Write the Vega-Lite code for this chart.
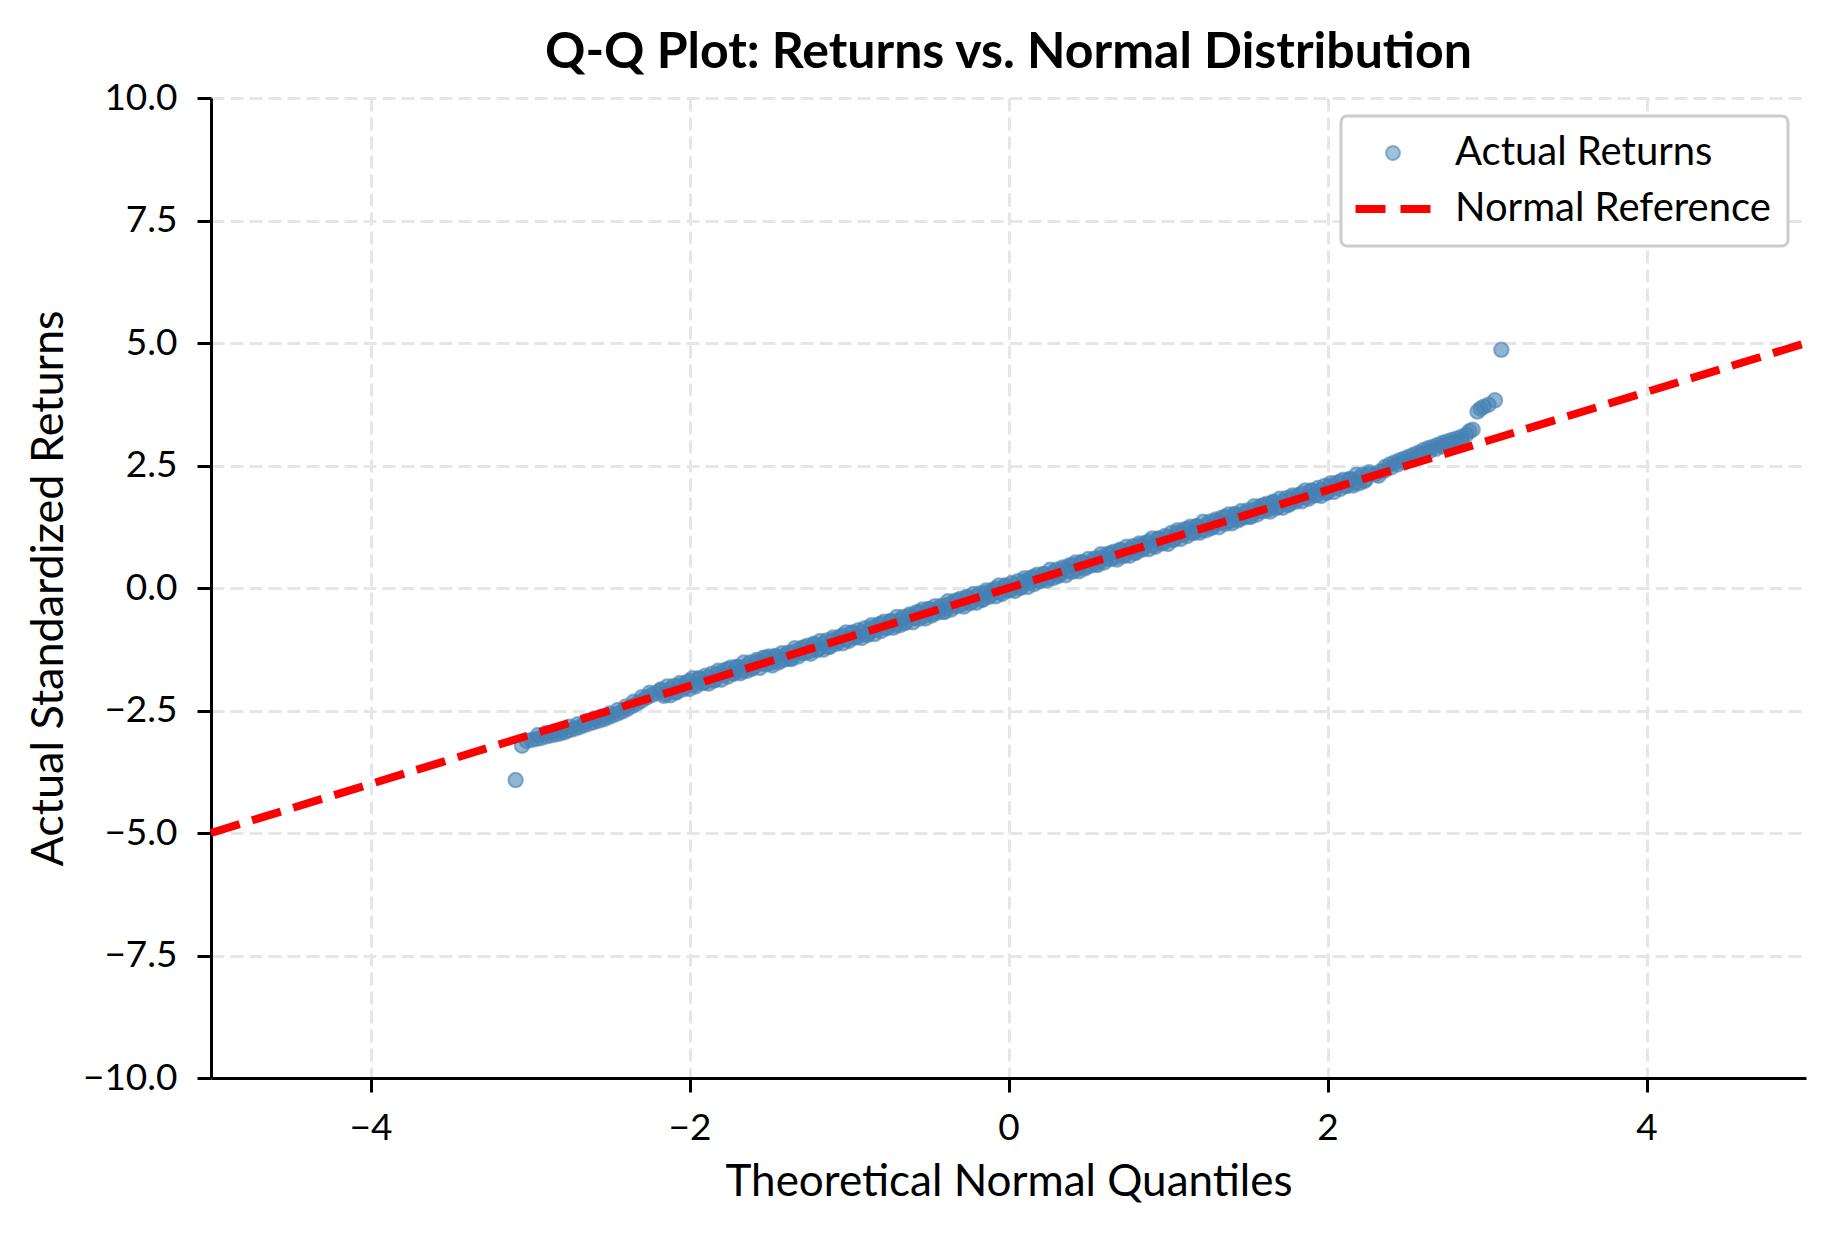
{
  "$schema": "https://vega.github.io/schema/vega-lite/v6.json",
  "width": 1595,
  "height": 980,
  "autosize": {"type": "none"},
  "padding": {"left": 211, "top": 98, "right": 28, "bottom": 156},
  "background": "white",
  "title": {
    "text": "Q-Q Plot: Returns vs. Normal Distribution",
    "font": "Lato", "fontSize": 50, "fontWeight": "bold", "color": "black",
    "anchor": "middle", "offset": 1
  },
  "config": {
    "view": {"stroke": null},
    "axis": {
      "domainColor": "black", "domainWidth": 3,
      "tickColor": "black", "tickWidth": 3, "tickSize": 14,
      "labelFont": "Lato", "labelFontSize": 37, "labelColor": "black", "labelPadding": 18,
      "labelFlush": false, "labelOverlap": false,
      "titleFont": "Lato", "titleFontSize": 44, "titleFontWeight": "normal", "titleColor": "black",
      "gridColor": "#e6e6e6", "gridWidth": 3, "gridDash": [13, 6]
    }
  },
  "datasets": {
    "qq": [
      {"q": -3.09, "r": -3.92}, {"q": -3.05, "r": -3.22}, {"q": -3.02, "r": -3.12}, {"q": -2.99, "r": -3.1},
      {"q": -2.96, "r": -3.08}, {"q": -2.93, "r": -3.06}, {"q": -2.9, "r": -3.03}, {"q": -2.87, "r": -3.01},
      {"q": -2.84, "r": -2.99}, {"q": -2.81, "r": -2.97}, {"q": -2.78, "r": -2.94}, {"q": -2.75, "r": -2.9},
      {"q": -2.72, "r": -2.87}, {"q": -2.69, "r": -2.84}, {"q": -2.66, "r": -2.8}, {"q": -2.63, "r": -2.77},
      {"q": -2.6, "r": -2.74}, {"q": -2.57, "r": -2.71}, {"q": -2.54, "r": -2.68}, {"q": -2.51, "r": -2.64},
      {"q": -2.48, "r": -2.6}, {"q": -2.45, "r": -2.56}, {"q": -2.42, "r": -2.52}, {"q": -2.39, "r": -2.47},
      {"q": -2.36, "r": -2.41}, {"q": -2.33, "r": -2.36}, {"q": -2.3, "r": -2.3}, {"q": -2.27, "r": -2.24},
      {"q": -2.24, "r": -2.19}, {"q": -2.21, "r": -2.15},
      {"q": -2.95, "r": -3.0}, {"q": -2.9, "r": -2.96}, {"q": -2.85, "r": -2.93}, {"q": -2.8, "r": -2.89},
      {"q": -2.75, "r": -2.83}, {"q": -2.7, "r": -2.78}, {"q": -2.65, "r": -2.72}, {"q": -2.6, "r": -2.67},
      {"q": -2.55, "r": -2.62}, {"q": -2.5, "r": -2.56}, {"q": -2.45, "r": -2.49}, {"q": -2.4, "r": -2.42},
      {"q": -2.35, "r": -2.32}, {"q": -2.3, "r": -2.23}, {"q": -2.25, "r": -2.14},
      {"q": -2.18, "r": -2.09}, {"q": -2.15, "r": -2.17}, {"q": -2.12, "r": -2.07}, {"q": -2.09, "r": -2.13},
      {"q": -2.06, "r": -1.99}, {"q": -2.03, "r": -2.02}, {"q": -2.0, "r": -1.9}, {"q": -1.97, "r": -1.98},
      {"q": -1.94, "r": -1.85}, {"q": -1.91, "r": -1.93}, {"q": -1.88, "r": -1.83}, {"q": -1.85, "r": -1.89},
      {"q": -1.82, "r": -1.75}, {"q": -1.79, "r": -1.78}, {"q": -1.76, "r": -1.66}, {"q": -1.73, "r": -1.74},
      {"q": -1.7, "r": -1.61}, {"q": -1.67, "r": -1.69}, {"q": -1.64, "r": -1.59}, {"q": -1.61, "r": -1.65},
      {"q": -1.58, "r": -1.51}, {"q": -1.55, "r": -1.54}, {"q": -1.52, "r": -1.42}, {"q": -1.49, "r": -1.53},
      {"q": -1.46, "r": -1.4}, {"q": -1.43, "r": -1.48}, {"q": -1.4, "r": -1.38}, {"q": -1.37, "r": -1.44},
      {"q": -1.34, "r": -1.3}, {"q": -1.31, "r": -1.33}, {"q": -1.28, "r": -1.21}, {"q": -1.25, "r": -1.29},
      {"q": -1.22, "r": -1.16}, {"q": -1.19, "r": -1.24}, {"q": -1.16, "r": -1.14}, {"q": -1.13, "r": -1.2},
      {"q": -1.1, "r": -1.06}, {"q": -1.07, "r": -1.09}, {"q": -1.04, "r": -0.97}, {"q": -1.01, "r": -1.05},
      {"q": -0.98, "r": -0.92}, {"q": -0.95, "r": -1.0}, {"q": -0.92, "r": -0.9}, {"q": -0.89, "r": -0.96},
      {"q": -0.86, "r": -0.82}, {"q": -0.83, "r": -0.85}, {"q": -0.8, "r": -0.73}, {"q": -0.77, "r": -0.81},
      {"q": -0.74, "r": -0.68}, {"q": -0.71, "r": -0.76}, {"q": -0.68, "r": -0.66}, {"q": -0.65, "r": -0.72},
      {"q": -0.62, "r": -0.58}, {"q": -0.59, "r": -0.61}, {"q": -0.56, "r": -0.49}, {"q": -0.53, "r": -0.57},
      {"q": -0.5, "r": -0.44}, {"q": -0.47, "r": -0.52}, {"q": -0.44, "r": -0.42}, {"q": -0.41, "r": -0.48},
      {"q": -0.38, "r": -0.34}, {"q": -0.35, "r": -0.37}, {"q": -0.32, "r": -0.25}, {"q": -0.29, "r": -0.33},
      {"q": -0.26, "r": -0.2}, {"q": -0.23, "r": -0.28}, {"q": -0.2, "r": -0.18}, {"q": -0.17, "r": -0.24},
      {"q": -0.14, "r": -0.1}, {"q": -0.11, "r": -0.13}, {"q": -0.08, "r": -0.01}, {"q": -0.05, "r": -0.09},
      {"q": -0.02, "r": 0.04}, {"q": 0.01, "r": -0.04}, {"q": 0.04, "r": 0.06}, {"q": 0.07, "r": 0.0},
      {"q": 0.1, "r": 0.14}, {"q": 0.13, "r": 0.11}, {"q": 0.16, "r": 0.23}, {"q": 0.19, "r": 0.15},
      {"q": 0.22, "r": 0.28}, {"q": 0.25, "r": 0.2}, {"q": 0.28, "r": 0.3}, {"q": 0.31, "r": 0.24},
      {"q": 0.34, "r": 0.38}, {"q": 0.37, "r": 0.35}, {"q": 0.4, "r": 0.47}, {"q": 0.43, "r": 0.39},
      {"q": 0.46, "r": 0.52}, {"q": 0.49, "r": 0.44}, {"q": 0.52, "r": 0.54}, {"q": 0.55, "r": 0.48},
      {"q": 0.58, "r": 0.62}, {"q": 0.61, "r": 0.59}, {"q": 0.64, "r": 0.71}, {"q": 0.67, "r": 0.63},
      {"q": 0.7, "r": 0.76}, {"q": 0.73, "r": 0.68}, {"q": 0.76, "r": 0.78}, {"q": 0.79, "r": 0.72},
      {"q": 0.82, "r": 0.86}, {"q": 0.85, "r": 0.83}, {"q": 0.88, "r": 0.95}, {"q": 0.91, "r": 0.87},
      {"q": 0.94, "r": 1.0}, {"q": 0.97, "r": 0.92}, {"q": 1.0, "r": 1.04}, {"q": 1.03, "r": 0.98},
      {"q": 1.06, "r": 1.12}, {"q": 1.09, "r": 1.09}, {"q": 1.12, "r": 1.21}, {"q": 1.15, "r": 1.13},
      {"q": 1.18, "r": 1.26}, {"q": 1.21, "r": 1.18}, {"q": 1.24, "r": 1.28}, {"q": 1.27, "r": 1.22},
      {"q": 1.3, "r": 1.36}, {"q": 1.33, "r": 1.33}, {"q": 1.36, "r": 1.45}, {"q": 1.39, "r": 1.37},
      {"q": 1.42, "r": 1.5}, {"q": 1.45, "r": 1.42}, {"q": 1.48, "r": 1.52}, {"q": 1.51, "r": 1.46},
      {"q": 1.54, "r": 1.6}, {"q": 1.57, "r": 1.57}, {"q": 1.6, "r": 1.69}, {"q": 1.63, "r": 1.61},
      {"q": 1.66, "r": 1.74}, {"q": 1.69, "r": 1.66}, {"q": 1.72, "r": 1.76}, {"q": 1.75, "r": 1.7},
      {"q": 1.78, "r": 1.84}, {"q": 1.81, "r": 1.81}, {"q": 1.84, "r": 1.93}, {"q": 1.87, "r": 1.85},
      {"q": 1.9, "r": 1.98}, {"q": 1.93, "r": 1.9}, {"q": 1.96, "r": 2.0}, {"q": 1.99, "r": 1.94},
      {"q": 2.02, "r": 2.08}, {"q": 2.05, "r": 2.05}, {"q": 2.08, "r": 2.17}, {"q": 2.11, "r": 2.09},
      {"q": 2.14, "r": 2.22}, {"q": 2.17, "r": 2.14}, {"q": 2.2, "r": 2.24}, {"q": 2.23, "r": 2.18},
      {"q": 2.26, "r": 2.32},
      {"q": -2.18, "r": -2.07}, {"q": -2.14, "r": -2.01}, {"q": -2.1, "r": -2.0}, {"q": -2.06, "r": -1.94},
      {"q": -2.02, "r": -1.93}, {"q": -1.98, "r": -1.84}, {"q": -1.94, "r": -1.84}, {"q": -1.9, "r": -1.79},
      {"q": -1.86, "r": -1.75}, {"q": -1.82, "r": -1.69}, {"q": -1.78, "r": -1.68}, {"q": -1.74, "r": -1.62},
      {"q": -1.7, "r": -1.61}, {"q": -1.66, "r": -1.52}, {"q": -1.62, "r": -1.52}, {"q": -1.58, "r": -1.47},
      {"q": -1.54, "r": -1.43}, {"q": -1.5, "r": -1.4}, {"q": -1.46, "r": -1.39}, {"q": -1.42, "r": -1.33},
      {"q": -1.38, "r": -1.32}, {"q": -1.34, "r": -1.23}, {"q": -1.3, "r": -1.23}, {"q": -1.26, "r": -1.18},
      {"q": -1.22, "r": -1.14}, {"q": -1.18, "r": -1.08}, {"q": -1.14, "r": -1.07}, {"q": -1.1, "r": -1.01},
      {"q": -1.06, "r": -1.0}, {"q": -1.02, "r": -0.91}, {"q": -0.98, "r": -0.91}, {"q": -0.94, "r": -0.86},
      {"q": -0.9, "r": -0.82}, {"q": -0.86, "r": -0.76}, {"q": -0.82, "r": -0.75}, {"q": -0.78, "r": -0.69},
      {"q": -0.74, "r": -0.68}, {"q": -0.7, "r": -0.59}, {"q": -0.66, "r": -0.59}, {"q": -0.62, "r": -0.54},
      {"q": -0.58, "r": -0.5}, {"q": -0.54, "r": -0.44}, {"q": -0.5, "r": -0.43}, {"q": -0.46, "r": -0.37},
      {"q": -0.42, "r": -0.36}, {"q": -0.38, "r": -0.27}, {"q": -0.34, "r": -0.27}, {"q": -0.3, "r": -0.22},
      {"q": -0.26, "r": -0.18}, {"q": -0.22, "r": -0.12}, {"q": -0.18, "r": -0.11}, {"q": -0.14, "r": -0.05},
      {"q": -0.1, "r": -0.04}, {"q": -0.06, "r": 0.05}, {"q": -0.02, "r": 0.05}, {"q": 0.02, "r": 0.1},
      {"q": 0.06, "r": 0.14}, {"q": 0.1, "r": 0.2}, {"q": 0.14, "r": 0.21}, {"q": 0.18, "r": 0.27},
      {"q": 0.22, "r": 0.28}, {"q": 0.26, "r": 0.37}, {"q": 0.3, "r": 0.37}, {"q": 0.34, "r": 0.42},
      {"q": 0.38, "r": 0.46}, {"q": 0.42, "r": 0.52}, {"q": 0.46, "r": 0.53}, {"q": 0.5, "r": 0.59},
      {"q": 0.54, "r": 0.6}, {"q": 0.58, "r": 0.69}, {"q": 0.62, "r": 0.69}, {"q": 0.66, "r": 0.74},
      {"q": 0.7, "r": 0.78}, {"q": 0.74, "r": 0.84}, {"q": 0.78, "r": 0.85}, {"q": 0.82, "r": 0.91},
      {"q": 0.86, "r": 0.92}, {"q": 0.9, "r": 1.01}, {"q": 0.94, "r": 1.01}, {"q": 0.98, "r": 1.06},
      {"q": 1.02, "r": 1.12}, {"q": 1.06, "r": 1.18}, {"q": 1.1, "r": 1.19}, {"q": 1.14, "r": 1.25},
      {"q": 1.18, "r": 1.26}, {"q": 1.22, "r": 1.35}, {"q": 1.26, "r": 1.35}, {"q": 1.3, "r": 1.4},
      {"q": 1.34, "r": 1.44}, {"q": 1.38, "r": 1.5}, {"q": 1.42, "r": 1.51}, {"q": 1.46, "r": 1.57},
      {"q": 1.5, "r": 1.58}, {"q": 1.54, "r": 1.67}, {"q": 1.58, "r": 1.67}, {"q": 1.62, "r": 1.72},
      {"q": 1.66, "r": 1.76}, {"q": 1.7, "r": 1.82}, {"q": 1.74, "r": 1.83}, {"q": 1.78, "r": 1.89},
      {"q": 1.82, "r": 1.9}, {"q": 1.86, "r": 1.99}, {"q": 1.9, "r": 1.99}, {"q": 1.94, "r": 2.04},
      {"q": 1.98, "r": 2.08}, {"q": 2.02, "r": 2.14}, {"q": 2.06, "r": 2.15}, {"q": 2.1, "r": 2.21},
      {"q": 2.14, "r": 2.22}, {"q": 2.18, "r": 2.31}, {"q": 2.22, "r": 2.31}, {"q": 2.26, "r": 2.36},
      {"q": -2.16, "r": -2.2}, {"q": -2.12, "r": -2.19}, {"q": -2.08, "r": -2.13}, {"q": -2.04, "r": -2.07},
      {"q": -2.0, "r": -2.06}, {"q": -1.96, "r": -2.01}, {"q": -1.92, "r": -1.94}, {"q": -1.88, "r": -1.95},
      {"q": -1.84, "r": -1.88}, {"q": -1.8, "r": -1.87}, {"q": -1.76, "r": -1.81}, {"q": -1.72, "r": -1.75},
      {"q": -1.68, "r": -1.74}, {"q": -1.64, "r": -1.69}, {"q": -1.6, "r": -1.62}, {"q": -1.56, "r": -1.63},
      {"q": -1.52, "r": -1.56}, {"q": -1.48, "r": -1.58}, {"q": -1.44, "r": -1.52}, {"q": -1.4, "r": -1.46},
      {"q": -1.36, "r": -1.45}, {"q": -1.32, "r": -1.4}, {"q": -1.28, "r": -1.33}, {"q": -1.24, "r": -1.34},
      {"q": -1.2, "r": -1.27}, {"q": -1.16, "r": -1.26}, {"q": -1.12, "r": -1.2}, {"q": -1.08, "r": -1.14},
      {"q": -1.04, "r": -1.13}, {"q": -1.0, "r": -1.08}, {"q": -0.96, "r": -1.01}, {"q": -0.92, "r": -1.02},
      {"q": -0.88, "r": -0.95}, {"q": -0.84, "r": -0.94}, {"q": -0.8, "r": -0.88}, {"q": -0.76, "r": -0.82},
      {"q": -0.72, "r": -0.81}, {"q": -0.68, "r": -0.76}, {"q": -0.64, "r": -0.69}, {"q": -0.6, "r": -0.7},
      {"q": -0.56, "r": -0.63}, {"q": -0.52, "r": -0.62}, {"q": -0.48, "r": -0.56}, {"q": -0.44, "r": -0.5},
      {"q": -0.4, "r": -0.49}, {"q": -0.36, "r": -0.44}, {"q": -0.32, "r": -0.37}, {"q": -0.28, "r": -0.38},
      {"q": -0.24, "r": -0.31}, {"q": -0.2, "r": -0.3}, {"q": -0.16, "r": -0.24}, {"q": -0.12, "r": -0.18},
      {"q": -0.08, "r": -0.17}, {"q": -0.04, "r": -0.12}, {"q": 0.0, "r": -0.05}, {"q": 0.04, "r": -0.06},
      {"q": 0.08, "r": 0.01}, {"q": 0.12, "r": 0.02}, {"q": 0.16, "r": 0.08}, {"q": 0.2, "r": 0.14},
      {"q": 0.24, "r": 0.15}, {"q": 0.28, "r": 0.2}, {"q": 0.32, "r": 0.27}, {"q": 0.36, "r": 0.26},
      {"q": 0.4, "r": 0.33}, {"q": 0.44, "r": 0.34}, {"q": 0.48, "r": 0.4}, {"q": 0.52, "r": 0.46},
      {"q": 0.56, "r": 0.47}, {"q": 0.6, "r": 0.52}, {"q": 0.64, "r": 0.59}, {"q": 0.68, "r": 0.58},
      {"q": 0.72, "r": 0.65}, {"q": 0.76, "r": 0.66}, {"q": 0.8, "r": 0.72}, {"q": 0.84, "r": 0.78},
      {"q": 0.88, "r": 0.79}, {"q": 0.92, "r": 0.84}, {"q": 0.96, "r": 0.91}, {"q": 1.0, "r": 0.9},
      {"q": 1.04, "r": 0.99}, {"q": 1.08, "r": 1.0}, {"q": 1.12, "r": 1.06}, {"q": 1.16, "r": 1.12},
      {"q": 1.2, "r": 1.13}, {"q": 1.24, "r": 1.18}, {"q": 1.28, "r": 1.25}, {"q": 1.32, "r": 1.24},
      {"q": 1.36, "r": 1.31}, {"q": 1.4, "r": 1.32}, {"q": 1.44, "r": 1.38}, {"q": 1.48, "r": 1.44},
      {"q": 1.52, "r": 1.45}, {"q": 1.56, "r": 1.5}, {"q": 1.6, "r": 1.57}, {"q": 1.64, "r": 1.56},
      {"q": 1.68, "r": 1.63}, {"q": 1.72, "r": 1.64}, {"q": 1.76, "r": 1.7}, {"q": 1.8, "r": 1.76},
      {"q": 1.84, "r": 1.77}, {"q": 1.88, "r": 1.82}, {"q": 1.92, "r": 1.89}, {"q": 1.96, "r": 1.88},
      {"q": 2.0, "r": 1.95}, {"q": 2.04, "r": 1.96}, {"q": 2.08, "r": 2.02}, {"q": 2.12, "r": 2.08},
      {"q": 2.16, "r": 2.09}, {"q": 2.2, "r": 2.14}, {"q": 2.24, "r": 2.21},
      {"q": 2.3, "r": 2.32}, {"q": 2.33, "r": 2.38}, {"q": 2.36, "r": 2.47}, {"q": 2.39, "r": 2.52},
      {"q": 2.42, "r": 2.56}, {"q": 2.45, "r": 2.6}, {"q": 2.48, "r": 2.64}, {"q": 2.51, "r": 2.68},
      {"q": 2.54, "r": 2.72}, {"q": 2.57, "r": 2.76}, {"q": 2.6, "r": 2.81}, {"q": 2.63, "r": 2.85},
      {"q": 2.66, "r": 2.88}, {"q": 2.69, "r": 2.92}, {"q": 2.72, "r": 2.96}, {"q": 2.75, "r": 2.99},
      {"q": 2.78, "r": 3.02}, {"q": 2.81, "r": 3.05}, {"q": 2.84, "r": 3.08}, {"q": 2.87, "r": 3.13},
      {"q": 2.89, "r": 3.2}, {"q": 2.91, "r": 3.23}, {"q": 2.94, "r": 3.6}, {"q": 2.96, "r": 3.66},
      {"q": 2.98, "r": 3.7}, {"q": 3.01, "r": 3.74}, {"q": 3.05, "r": 3.83}, {"q": 3.09, "r": 4.86},
      {"q": 2.32, "r": 2.29}, {"q": 2.36, "r": 2.4}, {"q": 2.4, "r": 2.46}, {"q": 2.44, "r": 2.52},
      {"q": 2.48, "r": 2.57}, {"q": 2.52, "r": 2.62}, {"q": 2.56, "r": 2.68}, {"q": 2.6, "r": 2.74},
      {"q": 2.64, "r": 2.79}, {"q": 2.68, "r": 2.84}, {"q": 2.72, "r": 2.89}, {"q": 2.76, "r": 2.93},
      {"q": 2.8, "r": 2.97}, {"q": 2.84, "r": 3.01}
    ],
    "ref": [
      {"q": -5, "r": -5},
      {"q": 5, "r": 5}
    ]
  },
  "encoding": {
    "x": {
      "field": "q", "type": "quantitative",
      "scale": {"domain": [-5, 5], "nice": false, "zero": false},
      "axis": {"values": [-4, -2, 0, 2, 4], "format": "d", "title": "Theoretical Normal Quantiles", "titlePadding": 14}
    },
    "y": {
      "field": "r", "type": "quantitative",
      "scale": {"domain": [-10, 10], "nice": false, "zero": false},
      "axis": {"values": [-10, -7.5, -5, -2.5, 0, 2.5, 5, 7.5, 10], "format": ".1f", "title": "Actual Standardized Returns", "titleFontSize": 45, "titlePadding": 11, "labelPadding": 20}
    }
  },
  "layer": [
    {
      "data": {"name": "qq"},
      "mark": {"type": "point", "filled": true, "size": 210, "fillOpacity": 0.6, "stroke": "#4682b4", "strokeOpacity": 0.6, "strokeWidth": 2},
      "encoding": {
        "color": {
          "datum": "Actual Returns",
          "scale": {"domain": ["Actual Returns", "Normal Reference"], "range": ["#4682b4", "#ff0000"]},
          "legend": {
            "title": null, "orient": "top-right", "offset": 18,
            "padding": 17, "rowPadding": 16,
            "strokeColor": "#cccccc", "cornerRadius": 6, "fillColor": "white",
            "labelFont": "Lato", "labelFontSize": 40, "labelColor": "black", "labelLimit": 600,
            "symbolSize": 900, "symbolOffset": 15, "labelOffset": 42,
            "encode": {
              "legend": {"update": {"strokeWidth": {"value": 3}}},
              "symbols": {
                "update": {
                  "shape": {"signal": "datum.value === 'Normal Reference' ? 'stroke' : 'circle'"},
                  "size": {"signal": "datum.value === 'Normal Reference' ? 5625 : 190"},
                  "fill": {"signal": "datum.value === 'Normal Reference' ? 'transparent' : '#4682b4'"},
                  "fillOpacity": {"value": 0.5},
                  "stroke": {"signal": "datum.value === 'Normal Reference' ? '#ff0000' : '#4682b4'"},
                  "strokeOpacity": {"signal": "datum.value === 'Normal Reference' ? 1 : 0.6"},
                  "strokeWidth": {"signal": "datum.value === 'Normal Reference' ? 8 : 2"},
                  "strokeDash": {"signal": "datum.value === 'Normal Reference' ? [30, 15] : [1, 0]"}
                }
              }
            }
          }
        }
      }
    },
    {
      "data": {"name": "ref"},
      "mark": {"type": "line", "strokeWidth": 8, "strokeDash": [30, 13], "strokeCap": "butt"},
      "encoding": {
        "color": {
          "datum": "Normal Reference",
          "legend": {
            "title": null, "orient": "top-right", "offset": 18,
            "padding": 17, "rowPadding": 16,
            "strokeColor": "#cccccc", "cornerRadius": 6, "fillColor": "white",
            "labelFont": "Lato", "labelFontSize": 40, "labelColor": "black", "labelLimit": 600,
            "symbolSize": 900, "symbolOffset": 15, "labelOffset": 42,
            "encode": {
              "legend": {"update": {"strokeWidth": {"value": 3}}},
              "symbols": {
                "update": {
                  "shape": {"signal": "datum.value === 'Normal Reference' ? 'stroke' : 'circle'"},
                  "size": {"signal": "datum.value === 'Normal Reference' ? 5625 : 190"},
                  "fill": {"signal": "datum.value === 'Normal Reference' ? 'transparent' : '#4682b4'"},
                  "fillOpacity": {"value": 0.5},
                  "stroke": {"signal": "datum.value === 'Normal Reference' ? '#ff0000' : '#4682b4'"},
                  "strokeOpacity": {"signal": "datum.value === 'Normal Reference' ? 1 : 0.6"},
                  "strokeWidth": {"signal": "datum.value === 'Normal Reference' ? 8 : 2"},
                  "strokeDash": {"signal": "datum.value === 'Normal Reference' ? [30, 15] : [1, 0]"}
                }
              }
            }
          }
        }
      }
    }
  ]
}
